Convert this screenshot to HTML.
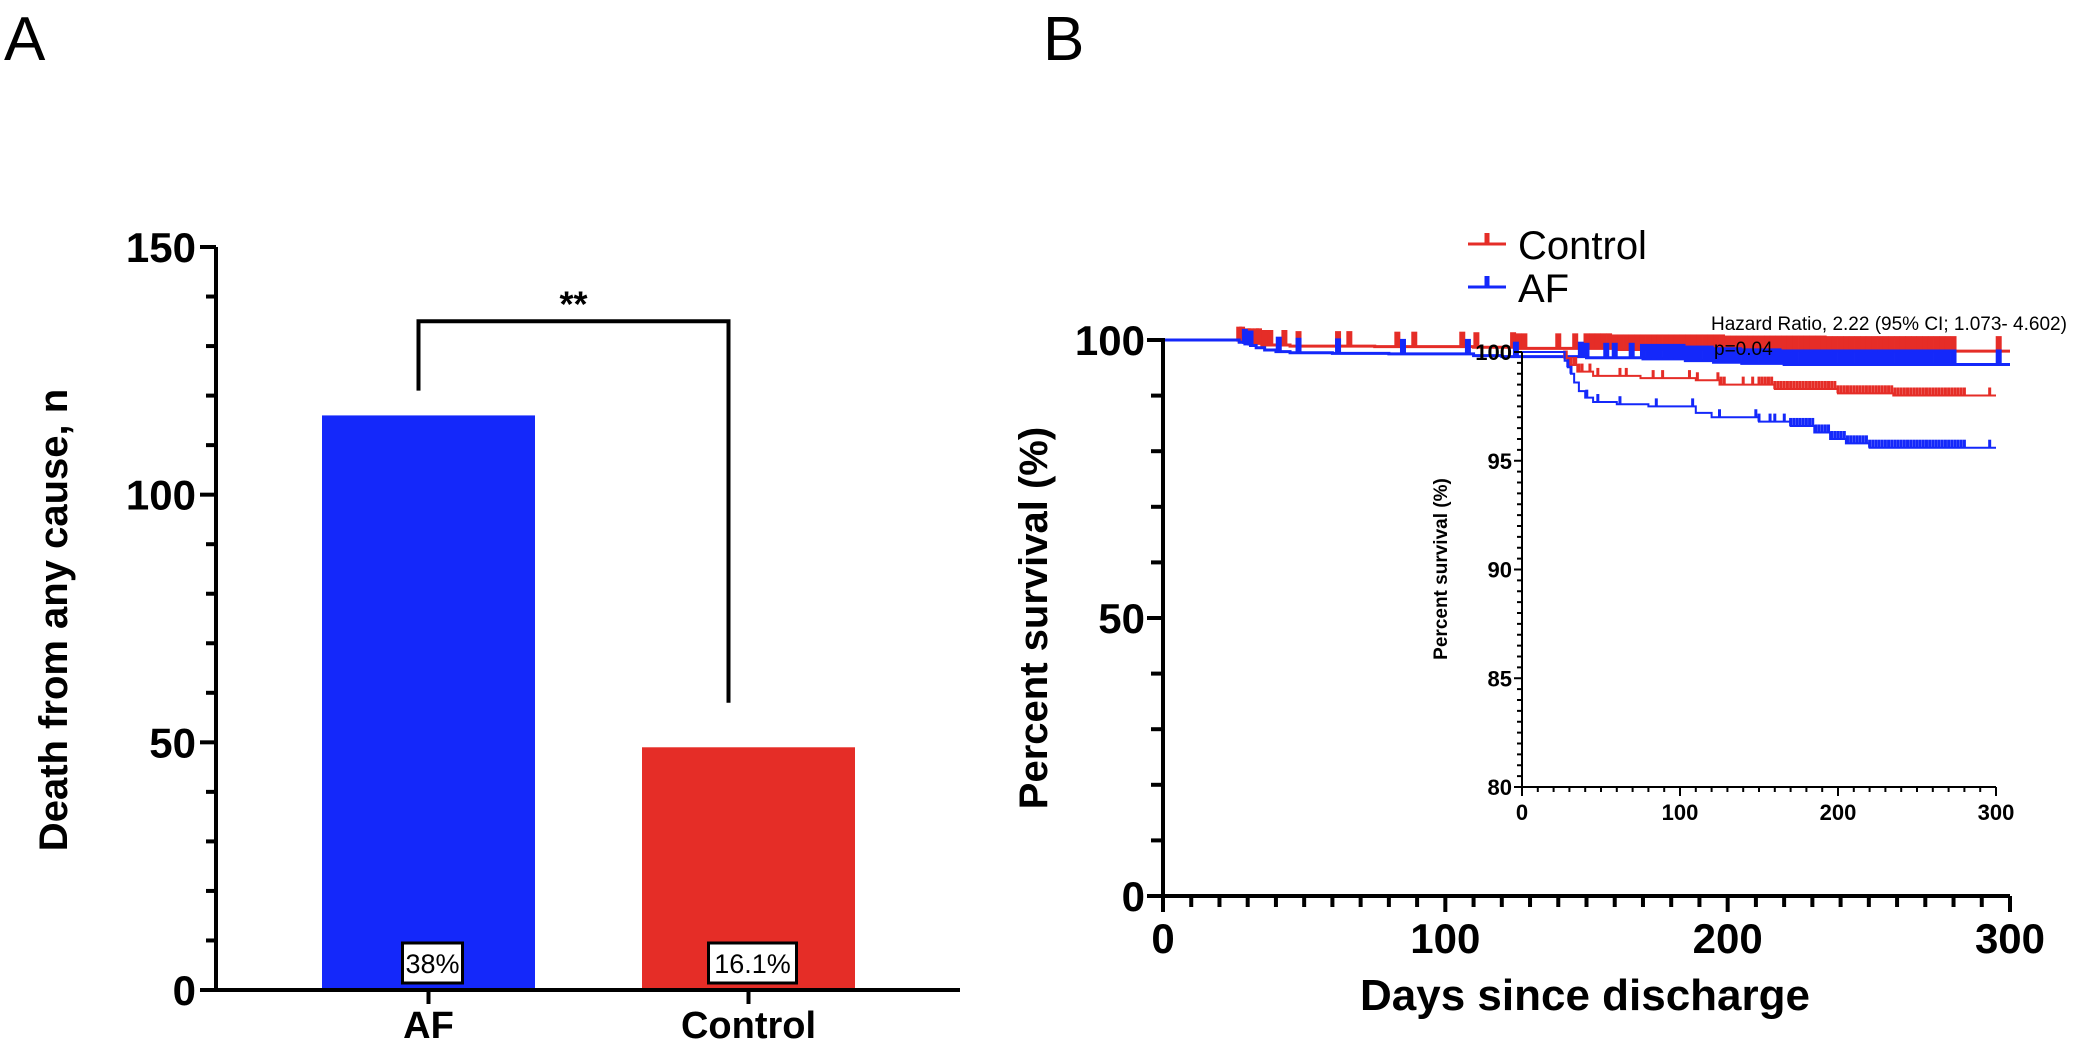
<!DOCTYPE html>
<html><head><meta charset="utf-8"><style>
html,body{margin:0;padding:0;background:#fff;}
svg{display:block;font-family:"Liberation Sans",Arial,sans-serif;}
</style></head><body>
<svg id="fig" width="2091" height="1045" viewBox="0 0 2091 1045" xmlns="http://www.w3.org/2000/svg">
<text x="4" y="60" font-size="62" fill="#000">A</text>
<text x="1043" y="60" font-size="62" fill="#000">B</text>
<g id="panelA"></g>
<g id="panelB"></g>
<g id="inset"></g>
</svg>
<script>
// ---- Panel A data ----
const barCategories = ["AF", "Control"];
const barValues = [116, 49];
const barLabels = ["38%", "16.1%"];
const barColors = ["#1428fa", "#e52d27"];
const aTicks = [0, 50, 100, 150];

// ---- Panel B data (Kaplan-Meier) ----
const afTimes = [0, 27, 29, 31, 33, 36, 40, 45, 60, 80, 110, 120, 150, 170, 185, 195, 205, 220, 300];
const afSurv = [100, 99.6, 99.3, 99.0, 98.6, 98.2, 97.9, 97.7, 97.6, 97.5, 97.2, 97.0, 96.8, 96.6, 96.3, 96.0, 95.8, 95.6, 95.6];
const ctlTimes = [0, 27, 30, 35, 45, 75, 110, 125, 160, 200, 235, 300];
const ctlSurv = [100, 99.7, 99.4, 99.1, 98.9, 98.8, 98.7, 98.5, 98.3, 98.1, 98.0, 98.0];
const afCensor = [29, 31, 41, 48, 62, 85, 108, 125, 148, 150, 157, 160, 166, 170, 172, 174, 176, 178, 180, 182, 184, 186, 188, 190, 192, 194, 196, 198, 200, 202, 204, 206, 208, 210, 212, 214, 216, 218, 220, 222, 224, 226, 228, 230, 232, 234, 236, 238, 240, 242, 244, 246, 248, 250, 252, 254, 256, 258, 260, 262, 264, 266, 268, 270, 272, 274, 276, 278, 280, 296];
const ctlCensor = [27, 28, 30, 31, 33, 34, 36, 38, 43, 48, 62, 66, 83, 89, 106, 111, 124, 126, 128, 140, 146, 150, 152, 154, 156, 158, 160, 162, 164, 166, 168, 170, 172, 174, 176, 178, 180, 182, 184, 186, 188, 190, 192, 194, 196, 198, 200, 202, 204, 206, 208, 210, 212, 214, 216, 218, 220, 222, 224, 226, 228, 230, 232, 234, 236, 238, 240, 242, 244, 246, 248, 250, 252, 254, 256, 258, 260, 262, 264, 266, 268, 270, 272, 274, 276, 278, 280, 296];
const bYTicks = [0, 50, 100];
const bXTicks = [0, 100, 200, 300];
const insetYTicks = [80, 85, 90, 95, 100];
const insetXTicks = [0, 100, 200, 300];

const NS = "http://www.w3.org/2000/svg";
function mk(parent, tag, attrs) {
  const e = document.createElementNS(NS, tag);
  for (const k in attrs) e.setAttribute(k, attrs[k]);
  parent.appendChild(e);
  return e;
}
function txt(parent, x, y, s, size, anchor, weight) {
  const t = mk(parent, "text", {x: x, y: y, "font-size": size, "text-anchor": anchor || "middle", "font-weight": weight || "bold", fill: "#000"});
  t.textContent = s;
  return t;
}

// ---------- Panel A ----------
(function () {
  const g = document.getElementById("panelA");
  const x0 = 216, x1 = 960, yTop = 247, yBot = 990, vmax = 150;
  const yA = v => yBot - (v / vmax) * (yBot - yTop);
  const xA = i => 322 + i * 320;
  const bw = 213;
  for (let v = 0; v <= vmax; v += 10) {
    const tk = mk(g, "line", {x1: x0 - (v % 50 === 0 ? 16 : 10), x2: x0, y1: yA(v), y2: yA(v), stroke: "#000", "stroke-width": 4});
    
    
  }
  aTicks.forEach(v => {
    const t = txt(g, x0 - 20, yA(v) + 15, String(v), 42, "end");
    
    
  });
  barValues.forEach((v, i) => {
    const r = mk(g, "rect", {x: xA(i), y: yA(v), width: bw, height: yBot - yA(v), fill: barColors[i]});
    
    
    const cx = xA(i) + bw / 2 + 4;
    const lw = barLabels[i].length * 14 + 18;
    const b = mk(g, "rect", {x: cx - lw / 2, y: 943, width: lw, height: 40, fill: "#fff", stroke: "#000", "stroke-width": 3});
    
    
    const t = txt(g, cx, 973, barLabels[i], 27, "middle", "normal");
    
    
    const tk = mk(g, "line", {x1: cx - 4, x2: cx - 4, y1: yBot, y2: yBot + 14, stroke: "#000", "stroke-width": 4});
    
    
    const c = txt(g, cx - 4, 1038, barCategories[i], 38);
    
    
  });
  const ax = mk(g, "path", {d: `M${x0},${yTop} V${yBot} H${x1}`, fill: "none", stroke: "#000", "stroke-width": 4});
  
  
  const lx = xA(0) + bw / 2 - 10, rx = xA(1) + bw / 2 - 20;
  const br = mk(g, "path", {d: `M${lx},${yA(121)} V${yA(135)} H${rx} V${yA(58)}`, fill: "none", stroke: "#000", "stroke-width": 4});
  
  
  const st = txt(g, (lx + rx) / 2, yA(135) - 5, "**", 36);
  
  
  const yt = txt(g, 0, 0, "Death from any cause, n", 40);
  yt.setAttribute("transform", "translate(67,620) rotate(-90)");
  
  
})();

function drawKM(g, xS, yS, times, surv, censor, color, sw, ch, cw) {
  let d = `M${xS(times[0])},${yS(surv[0])}`;
  for (let i = 1; i < times.length; i++) {
    d += ` H${xS(times[i])} V${yS(surv[i])}`;
  }
  const p = mk(g, "path", {d: d, fill: "none", stroke: color, "stroke-width": sw});
  
  
  censor.forEach(t => {
    let s = surv[0];
    for (let i = 0; i < times.length; i++) if (times[i] <= t) s = surv[i];
    const c = mk(g, "line", {x1: xS(t), x2: xS(t), y1: yS(s), y2: yS(s) - ch, stroke: color, "stroke-width": cw});
    
    
  });
}

// ---------- Panel B ----------
(function () {
  const g = document.getElementById("panelB");
  const x0 = 1163, x300 = 2010, y0 = 896, y100 = 340;
  const xB = t => x0 + (t / 300) * (x300 - x0);
  const yB = v => y0 - (v / 100) * (y0 - y100);
  for (let v = 0; v <= 100; v += 10) {
    const tk = mk(g, "line", {x1: x0 - (v % 50 === 0 ? 16 : 12), x2: x0, y1: yB(v), y2: yB(v), stroke: "#000", "stroke-width": 4});
    
    
  }
  for (let t = 0; t <= 300; t += 10) {
    const tk = mk(g, "line", {x1: xB(t), x2: xB(t), y1: y0, y2: y0 + (t % 100 === 0 ? 16 : 11), stroke: "#000", "stroke-width": 4});
    
    
  }
  bYTicks.forEach(v => {
    const t = txt(g, x0 - 18, yB(v) + 15, String(v), 42, "end");
    
    
  });
  bXTicks.forEach(v => {
    const t = txt(g, xB(v), y0 + 57, String(v), 42);
    
    
  });
  drawKM(g, xB, yB, ctlTimes, ctlSurv, ctlCensor, "#e52d27", 3, 15, 6);
  drawKM(g, xB, yB, afTimes, afSurv, afCensor, "#1428fa", 3, 15, 6);
  const ax = mk(g, "path", {d: `M${x0},${y100 - 2} V${y0} H${x300}`, fill: "none", stroke: "#000", "stroke-width": 4});
  
  
  const xt = txt(g, 1585, 1010, "Days since discharge", 44);
  
  
  const yt = txt(g, 0, 0, "Percent survival (%)", 40);
  yt.setAttribute("transform", "translate(1047,618) rotate(-90)");
  
  
  const leg = [["Control", "#e52d27", 244], ["AF", "#1428fa", 287]];
  leg.forEach(([n, c, y]) => {
    const l1 = mk(g, "line", {x1: 1468, x2: 1506, y1: y, y2: y, stroke: c, "stroke-width": 3});
    
    
    const l2 = mk(g, "line", {x1: 1487, x2: 1487, y1: y, y2: y - 11, stroke: c, "stroke-width": 5});
    
    
    const t = txt(g, 1518, y + 15, n, 40, "start", "normal");
    
    
  });
})();

// ---------- Inset ----------
(function () {
  const g = document.getElementById("inset");
  const x0 = 1522, x300 = 1996, y80 = 787, y100 = 352;
  const xI = t => x0 + (t / 300) * (x300 - x0);
  const yI = v => y80 - ((v - 80) / 20) * (y80 - y100);
  for (let v = 80; v <= 100.001; v += 0.5) {
    const big = Math.abs(v % 5) < 0.01;
    const tk = mk(g, "line", {x1: x0 - (big ? 8 : 5), x2: x0, y1: yI(v), y2: yI(v), stroke: "#000", "stroke-width": 2});
    
    
  }
  for (let t = 0; t <= 300; t += 10) {
    const tk = mk(g, "line", {x1: xI(t), x2: xI(t), y1: y80, y2: y80 + (t % 100 === 0 ? 9 : 5), stroke: "#000", "stroke-width": 2});
    
    
  }
  insetYTicks.forEach(v => {
    const t = txt(g, x0 - 10, yI(v) + 8, String(v), 22, "end");
    
    
  });
  insetXTicks.forEach(v => {
    const t = txt(g, xI(v), y80 + 33, String(v), 22);
    
    
  });
  drawKM(g, xI, yI, ctlTimes, ctlSurv, ctlCensor, "#e52d27", 2, 8, 3);
  drawKM(g, xI, yI, afTimes, afSurv, afCensor, "#1428fa", 2, 8, 3);
  const ax = mk(g, "path", {d: `M${x0},${y100} V${y80} H${x300}`, fill: "none", stroke: "#000", "stroke-width": 2});
  
  
  const yt = txt(g, 0, 0, "Percent survival (%)", 19);
  yt.setAttribute("transform", "translate(1447,569) rotate(-90)");
  
  
  const h = txt(g, 1711, 330, "Hazard Ratio, 2.22 (95% CI; 1.073- 4.602)", 19, "start", "normal");
  
  
  const p = txt(g, 1714, 355, "p=0.04", 19, "start", "normal");
  
  
})();
</script>
</body></html>
